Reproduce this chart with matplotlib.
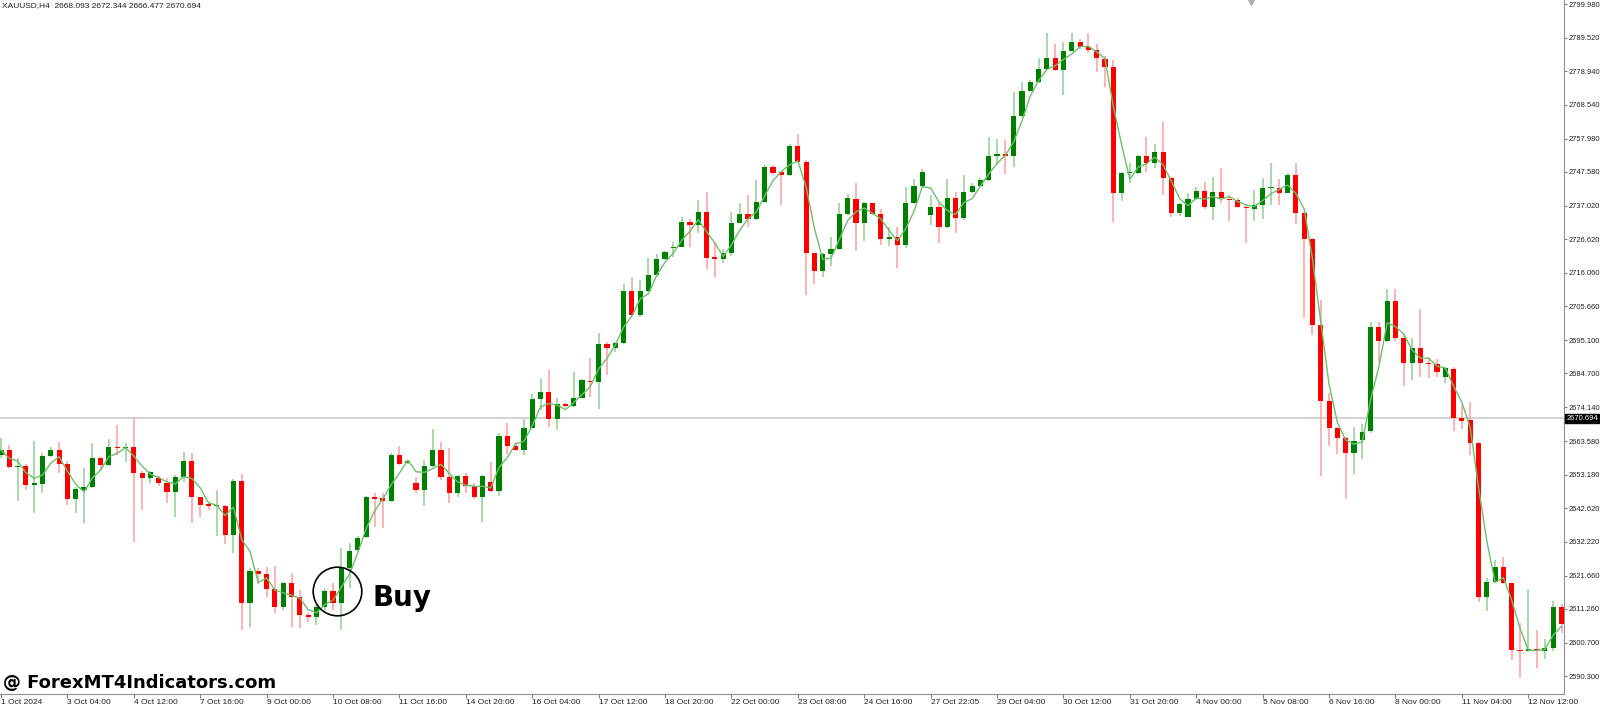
import numpy as np
import pandas as pd
import matplotlib
matplotlib.use('Agg')
import matplotlib.pyplot as plt
import matplotlib.transforms as mtransforms

# XAUUSD H4 candles (open, high, low, close)
opens = [2659.17, 2660.83, 2655.53, 2655.94, 2650.01, 2650.22, 2658.96, 2660.83, 2656.46, 2645.54,
         2648.35, 2649.18, 2658.44, 2656.15, 2661.66, 2661.45, 2661.66, 2653.76, 2651.99, 2652.20,
         2650.64, 2647.83, 2652.30, 2657.40, 2646.06, 2643.67, 2643.25, 2643.36, 2634.31, 2651.16,
         2613.20, 2623.18, 2622.14, 2617.36, 2611.95, 2619.44, 2615.07, 2609.35, 2608.62, 2611.95,
         2616.94, 2613.20, 2623.91, 2629.63, 2633.58, 2645.96, 2645.86, 2645.02, 2659.27, 2656.88,
         2650.43, 2648.35, 2655.84, 2660.83, 2652.51, 2647.31, 2652.82, 2649.60, 2646.06, 2650.95,
         2648.14, 2665.20, 2662.08, 2660.83, 2667.59, 2676.64, 2678.82, 2670.40, 2675.18, 2674.56,
         2677.16, 2682.46, 2681.94, 2693.90, 2692.55, 2694.11, 2710.44, 2702.95, 2710.44, 2715.43,
         2720.32, 2723.75, 2724.27, 2732.07, 2731.03, 2734.98, 2720.84, 2720.53, 2722.19, 2731.76,
         2734.36, 2732.80, 2738.31, 2749.23, 2747.46, 2746.63, 2755.68, 2750.79, 2722.19, 2716.78,
         2721.88, 2723.44, 2734.36, 2739.14, 2731.76, 2737.79, 2734.46, 2726.77, 2727.18, 2724.79,
         2737.99, 2743.30, 2734.15, 2736.54, 2730.30, 2739.56, 2733.11, 2741.43, 2743.20, 2745.07,
         2752.56, 2753.18, 2752.56, 2765.04, 2772.94, 2775.75, 2779.60, 2783.03, 2779.39, 2785.42,
         2788.23, 2786.46, 2785.63, 2782.72, 2780.22, 2741.12, 2747.15, 2747.36, 2752.56, 2750.27,
         2753.70, 2745.59, 2734.67, 2733.63, 2739.04, 2741.74, 2736.54, 2741.22, 2739.04, 2738.83,
         2736.75, 2735.92, 2737.27, 2742.47, 2742.68, 2741.12, 2746.63, 2734.88, 2726.56, 2699.83,
         2676.22, 2667.59, 2664.47, 2659.79, 2663.95, 2666.86, 2699.31, 2694.94, 2707.43, 2695.67,
         2687.87, 2692.55, 2688.08, 2687.66, 2683.71, 2686.10, 2670.92, 2670.19, 2663.12, 2614.86,
         2619.54, 2624.22, 2619.23, 2598.43, 2598.01, 2598.64, 2598.22, 2598.95, 2611.74]

highs = [2664.47, 2662.39, 2658.23, 2656.36, 2663.74, 2659.79, 2661.87, 2663.43, 2657.50, 2649.18,
         2655.11, 2662.91, 2658.75, 2664.16, 2668.63, 2663.12, 2670.71, 2654.38, 2654.38, 2652.72,
         2651.99, 2653.03, 2660.10, 2660.00, 2646.27, 2644.19, 2648.35, 2643.57, 2651.68, 2653.34,
         2623.91, 2623.91, 2624.43, 2624.64, 2619.75, 2622.35, 2617.15, 2609.87, 2612.47, 2617.36,
         2619.44, 2630.15, 2631.71, 2634.00, 2646.48, 2647.31, 2647.31, 2659.79, 2662.08, 2657.71,
         2652.51, 2657.71, 2667.28, 2663.43, 2661.35, 2653.03, 2653.55, 2650.43, 2653.03, 2657.19,
         2666.03, 2669.36, 2663.43, 2670.40, 2678.20, 2683.19, 2685.79, 2676.95, 2675.39, 2685.27,
         2682.98, 2689.43, 2697.23, 2694.63, 2694.63, 2712.52, 2714.70, 2713.87, 2720.84, 2721.98,
         2723.02, 2725.83, 2733.42, 2732.80, 2738.83, 2741.43, 2725.83, 2723.44, 2735.19, 2737.79,
         2740.39, 2745.07, 2749.75, 2749.75, 2747.67, 2756.30, 2759.42, 2751.31, 2722.40, 2722.40,
         2727.39, 2738.00, 2740.60, 2744.03, 2738.31, 2738.00, 2735.92, 2730.30, 2730.30, 2742.99,
         2745.28, 2748.50, 2740.39, 2738.00, 2745.28, 2741.43, 2746.63, 2744.24, 2745.59, 2758.59,
         2757.76, 2757.55, 2772.63, 2775.75, 2776.27, 2783.03, 2790.83, 2787.50, 2788.23, 2790.83,
         2788.96, 2790.83, 2787.50, 2783.76, 2782.51, 2747.67, 2750.27, 2752.87, 2758.38, 2756.30,
         2763.27, 2746.11, 2738.00, 2741.12, 2742.99, 2744.55, 2746.11, 2748.92, 2740.39, 2739.35,
         2737.27, 2741.95, 2745.59, 2750.48, 2745.28, 2747.15, 2750.48, 2735.19, 2726.87, 2707.63,
         2678.72, 2668.11, 2664.78, 2668.11, 2668.94, 2700.87, 2700.87, 2710.96, 2710.96, 2697.02,
         2695.67, 2704.72, 2689.95, 2689.12, 2686.62, 2686.62, 2674.87, 2675.91, 2663.43, 2620.79,
         2626.51, 2627.34, 2619.44, 2606.75, 2617.36, 2604.67, 2601.76, 2613.72, 2612.78]

lows = [2658.23, 2655.32, 2644.92, 2648.35, 2641.28, 2647.52, 2658.54, 2653.76, 2643.67, 2641.28,
        2638.16, 2648.97, 2654.59, 2655.84, 2659.27, 2657.19, 2632.23, 2642.11, 2650.43, 2649.60,
        2644.19, 2639.82, 2650.95, 2638.16, 2640.03, 2642.11, 2634.00, 2631.50, 2628.80, 2604.67,
        2605.71, 2619.02, 2615.07, 2609.87, 2610.91, 2605.71, 2605.19, 2607.27, 2606.23, 2610.91,
        2610.91, 2604.67, 2617.67, 2629.11, 2633.27, 2636.91, 2636.39, 2644.71, 2656.15, 2656.46,
        2647.31, 2643.36, 2655.42, 2651.47, 2644.19, 2646.27, 2647.31, 2645.44, 2638.47, 2647.83,
        2646.48, 2659.58, 2660.62, 2659.27, 2667.28, 2673.31, 2668.11, 2667.07, 2674.14, 2674.35,
        2676.95, 2677.47, 2673.52, 2684.23, 2691.51, 2693.90, 2702.64, 2702.22, 2710.23, 2714.91,
        2720.11, 2721.15, 2724.06, 2724.27, 2728.43, 2717.20, 2714.91, 2719.28, 2721.36, 2731.55,
        2730.51, 2732.59, 2738.00, 2746.63, 2737.31, 2746.32, 2750.27, 2709.19, 2712.62, 2714.70,
        2718.24, 2723.23, 2734.15, 2723.02, 2726.14, 2734.15, 2724.79, 2724.48, 2717.51, 2723.75,
        2737.58, 2742.99, 2731.03, 2725.52, 2729.99, 2728.43, 2732.59, 2740.91, 2742.99, 2744.86,
        2749.75, 2746.94, 2749.23, 2764.83, 2772.73, 2775.44, 2779.39, 2779.18, 2771.59, 2785.11,
        2785.84, 2784.59, 2778.87, 2774.19, 2732.07, 2738.62, 2744.03, 2746.94, 2747.67, 2748.71,
        2740.39, 2733.63, 2733.84, 2733.42, 2738.83, 2735.92, 2732.59, 2737.79, 2732.38, 2736.23,
        2725.52, 2732.38, 2732.80, 2737.27, 2737.27, 2740.91, 2731.34, 2701.91, 2696.71, 2652.72,
        2662.08, 2659.58, 2645.44, 2653.34, 2657.92, 2666.24, 2688.39, 2694.63, 2694.94, 2680.80,
        2682.67, 2683.71, 2683.19, 2683.50, 2681.84, 2666.86, 2667.28, 2659.27, 2613.51, 2610.70,
        2619.44, 2619.02, 2595.31, 2589.80, 2597.80, 2592.71, 2595.52, 2598.22, 2603.63]

closes = [2660.83, 2655.63, 2655.73, 2649.91, 2650.22, 2659.06, 2660.83, 2656.36, 2645.54, 2648.56,
          2649.18, 2658.44, 2656.15, 2661.66, 2661.45, 2661.66, 2653.76, 2651.99, 2654.07, 2650.64,
          2647.83, 2652.30, 2657.40, 2646.06, 2643.67, 2643.46, 2643.46, 2634.31, 2651.16, 2613.20,
          2623.18, 2622.14, 2617.36, 2611.95, 2619.44, 2615.07, 2609.35, 2608.73, 2611.95, 2616.94,
          2613.20, 2623.91, 2629.42, 2633.48, 2646.06, 2645.65, 2645.02, 2659.27, 2656.46, 2657.29,
          2648.35, 2655.84, 2660.83, 2652.51, 2647.31, 2652.82, 2649.60, 2646.06, 2652.82, 2648.14,
          2665.20, 2662.18, 2660.83, 2667.59, 2676.64, 2678.82, 2670.50, 2675.18, 2674.56, 2677.16,
          2682.67, 2681.94, 2693.80, 2692.55, 2694.32, 2710.44, 2702.95, 2710.44, 2715.43, 2720.32,
          2722.50, 2724.06, 2732.07, 2731.03, 2734.98, 2720.84, 2720.53, 2722.19, 2731.76, 2734.36,
          2732.80, 2738.31, 2749.23, 2747.15, 2746.63, 2755.68, 2750.79, 2722.19, 2716.78, 2721.88,
          2723.44, 2734.36, 2739.35, 2731.76, 2737.79, 2734.46, 2726.56, 2726.97, 2724.79, 2737.99,
          2743.30, 2747.67, 2736.75, 2730.30, 2739.56, 2733.11, 2741.43, 2743.20, 2745.07, 2752.56,
          2753.18, 2752.56, 2765.04, 2772.94, 2775.75, 2779.60, 2783.24, 2779.39, 2785.42, 2788.23,
          2786.46, 2785.63, 2783.03, 2780.22, 2741.12, 2747.15, 2747.57, 2752.56, 2750.27, 2753.70,
          2745.59, 2734.67, 2737.48, 2739.04, 2741.74, 2736.54, 2741.43, 2739.35, 2738.83, 2736.75,
          2736.23, 2737.27, 2742.47, 2742.78, 2741.12, 2746.63, 2734.88, 2726.56, 2699.83, 2676.22,
          2667.59, 2664.47, 2659.79, 2663.74, 2666.55, 2699.31, 2694.84, 2707.43, 2695.67, 2687.87,
          2692.55, 2688.08, 2687.66, 2685.27, 2686.31, 2670.71, 2669.98, 2662.91, 2614.86, 2619.54,
          2624.22, 2619.23, 2598.43, 2598.01, 2598.64, 2598.22, 2599.05, 2611.95, 2606.44]

# price scale labels on the right
price_ticks = [2799.980, 2789.520, 2778.940, 2768.540, 2757.980, 2747.580, 2737.020,
               2726.620, 2716.060, 2705.660, 2695.100, 2684.700, 2674.140, 2663.580,
               2653.180, 2642.620, 2632.220, 2621.660, 2611.260, 2600.700, 2590.300]

# time labels, one every 8 bars
time_labels = ['1 Oct 2024', '3 Oct 04:00', '4 Oct 12:00', '7 Oct 16:00', '9 Oct 00:00',
               '10 Oct 08:00', '11 Oct 16:00', '14 Oct 20:00', '16 Oct 04:00', '17 Oct 12:00',
               '18 Oct 20:00', '22 Oct 00:00', '23 Oct 08:00', '24 Oct 16:00', '27 Oct 22:05',
               '29 Oct 04:00', '30 Oct 12:00', '31 Oct 20:00', '4 Nov 00:00', '5 Nov 08:00',
               '6 Nov 16:00', '8 Nov 00:00', '11 Nov 04:00', '12 Nov 12:00']

last_price = 2670.694
header = 'XAUUSD,H4  2668.093 2672.344 2666.477 2670.694'

df = pd.DataFrame({'open': opens, 'high': highs, 'low': lows, 'close': closes})
df['ma'] = df['close'].rolling(3, min_periods=1).mean()
x = np.arange(len(df))
up = df['close'] >= df['open']

plt.rcParams['font.family'] = ['Liberation Sans', 'DejaVu Sans']

fig = plt.figure(figsize=(16, 7.06), dpi=100)
ax = fig.add_axes([0.0, 12 / 706, 1564 / 1600, 694 / 706])

# wicks
ax.vlines(x[up], df['low'][up], df['high'][up], color='#8fd08f', lw=1.1, zorder=2)
ax.vlines(x[~up], df['low'][~up], df['high'][~up], color='#ff9d9d', lw=1.1, zorder=2)

# bodies
body_lo = np.minimum(df['open'], df['close'])
body_h = np.maximum(np.abs(df['close'] - df['open']), 0.45)
ax.bar(x[up], body_h[up], bottom=body_lo[up], width=0.62, color='#008000', zorder=3)
ax.bar(x[~up], body_h[~up], bottom=body_lo[~up], width=0.62, color='#ff0000', zorder=3)

# indicator line
ax.plot(x, df['ma'], color='#6cc06c', lw=1.0, zorder=4)

# current price line
ax.axhline(last_price, color='#d0d0d0', lw=1.3, zorder=1)

ax.set_xlim(-0.12, 188.3)
ax.set_ylim(2584.70, 2801.23)

for s in ['left', 'top']:
    ax.spines[s].set_visible(False)
for s in ['right', 'bottom']:
    ax.spines[s].set_color('#909090')

ax.yaxis.tick_right()
ax.set_yticks(price_ticks)
ax.set_yticklabels(['%.3f' % p for p in price_ticks])
ax.tick_params(axis='y', length=2.5, width=0.8, color='#808080', pad=0.5,
               labelsize=5.4, labelcolor='#202020')

ax.set_xticks(x[::8][:len(time_labels)])
ax.set_xticklabels(time_labels, ha='left')
ax.tick_params(axis='x', length=3, width=0.8, color='#808080', pad=0.5,
               labelsize=6, labelcolor='#202020')

# last price tag on the scale
trans = mtransforms.blended_transform_factory(ax.transAxes, ax.transData)
ax.text(1.0015, last_price, '%.3f' % last_price, transform=trans, fontsize=5.4,
        color='white', ha='left', va='center', clip_on=False,
        bbox=dict(boxstyle='square,pad=0.12', fc='black', ec='black'))

# chart shift marker
ax.plot([150.6], [2801.0], marker='v', ms=6, color='#b0b0b0', clip_on=False, zorder=5)

# Buy mark
ax.plot([40.5], [2616.9], marker='o', ms=35, mfc='none', mec='black', mew=1.2, zorder=6)
ax.text(44.8, 2614.5, 'Buy', fontsize=20, fontweight='bold', family='DejaVu Sans',
        ha='left', va='center', zorder=6)

fig.text(2 / 1600, 1 - 6 / 706, header, fontsize=6, color='#202020', va='center')
fig.text(3 / 1600, 1 - 683 / 706, '@ ForexMT4Indicators.com', fontsize=13,
         fontweight='bold', family='DejaVu Sans', va='center', color='black')

fig.savefig('out.png', dpi=100, facecolor='white')
